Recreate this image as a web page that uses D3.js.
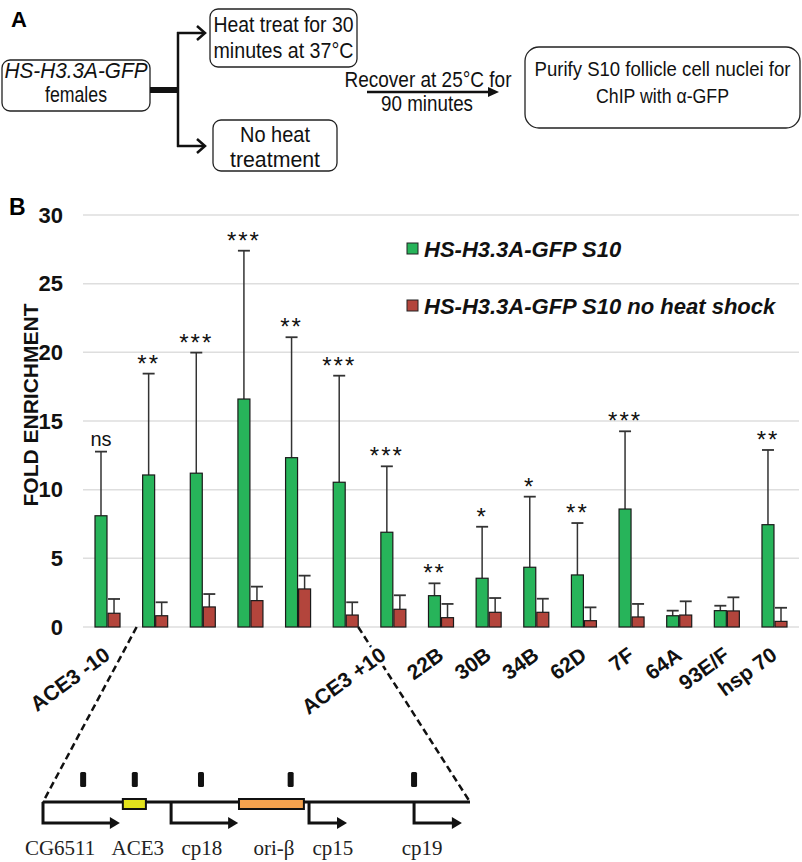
<!DOCTYPE html>
<html>
<head>
<meta charset="utf-8">
<script src="https://cdn.jsdelivr.net/npm/d3@7"></script>
<style>
  body { margin: 0; background: #fff; }
  svg { display: block; font-family: "Liberation Sans", Arial, sans-serif; }
</style>
</head>
<body>
<div id="chart"></div>
<script>
// fold enrichment per locus (mean and upper error)
const tickLabels = ["ACE3 -10", "", "", "", "", "", "ACE3 +10", "22B", "30B", "34B", "62D", "7F", "64A", "93E/F", "hsp 70"];
const heatShock = [8.1, 11.07, 11.2, 16.6, 12.33, 10.54, 6.9, 2.28, 3.55, 4.35, 3.79, 8.59, 0.82, 1.19, 7.45];
const heatShockErr = [4.67, 7.38, 8.78, 10.8, 8.77, 7.76, 4.8, 0.9, 3.75, 5.14, 3.78, 5.66, 0.37, 0.36, 5.44];
const noHeat = [1.0, 0.82, 1.46, 1.92, 2.77, 0.87, 1.29, 0.68, 1.07, 1.07, 0.46, 0.73, 0.87, 1.17, 0.41];
const noHeatErr = [1.04, 0.98, 0.94, 1.02, 0.97, 0.93, 1.02, 1.0, 1.04, 0.99, 0.97, 0.95, 1.0, 0.99, 0.99];
const significance = ["ns", "**", "***", "***", "**", "***", "***", "**", "*", "*", "**", "***", "", "", "**"];
const seriesNames = ["HS-H3.3A-GFP S10", "HS-H3.3A-GFP S10 no heat shock"];
const yTicks = [0, 5, 10, 15, 20, 25, 30];

// ACE3 locus schematic (locus units 0..100)
const probes = [9.4, 21.5, 37, 58, 86.9];
const promoters = [
  {name: "CG6511", start: 0, end: 18, label: 4},
  {name: "cp18", start: 30, end: 45.7, label: 37.2},
  {name: "cp15", start: 62.3, end: 71.2, label: 67.9},
  {name: "cp19", start: 86.9, end: 98.1, label: 88.8}
];
const elements = [
  {name: "ACE3", start: 18.7, end: 24.1, fill: "#e2e21c", label: 22.2},
  {name: "ori-β", start: 45.9, end: 61.1, fill: "#f4a24e", label: 54.1}
];

const width = 802, height = 862;
const green = "#27b45a", red = "#b3453c";
const sans = "Liberation Sans, Arial, sans-serif";

const svg = d3.select("#chart").append("svg")
  .attr("width", width)
  .attr("height", height);

// ---------- panel A: flow chart ----------
// the original uses a narrow face, so text is squeezed to the widths it had
const fa = svg.append("g").attr("font-size", 22).attr("fill", "#111");
svg.append("text").attr("x", 11).attr("y", 27)
  .attr("font-size", 22).attr("font-weight", "bold").text("A");

function label(cx, y, t, w, italic, size) {
  fa.append("text")
    .attr("x", cx).attr("y", y)
    .attr("text-anchor", "middle")
    .attr("font-style", italic ? "italic" : null)
    .attr("font-size", size || null)
    .attr("textLength", w).attr("lengthAdjust", "spacingAndGlyphs")
    .text(t);
}
function box(x, y, w, h, r, lines, italicFirst, size) {
  fa.append("rect")
    .attr("x", x).attr("y", y).attr("width", w).attr("height", h)
    .attr("rx", r).attr("fill", "#fff").attr("stroke", "#222").attr("stroke-width", 1.3);
  lines.forEach((l, i) => label(x + w / 2, l.y, l.t, l.w, i === 0 && italicFirst, size));
}
box(2, 60, 148, 51, 8, [{t: "HS-H3.3A-GFP", y: 78, w: 143}, {t: "females", y: 102, w: 62}], true);
box(210, 9, 147, 58, 8, [{t: "Heat treat for 30", y: 32, w: 140}, {t: "minutes at 37°C", y: 58, w: 140}]);
box(213, 120, 124, 51, 8, [{t: "No heat", y: 142, w: 70}, {t: "treatment", y: 167, w: 90}]);
box(525, 47, 275, 81, 14, [{t: "Purify S10 follicle cell nuclei for", y: 76, w: 256}, {t: "ChIP with α-GFP", y: 103, w: 133}], false, 19.5);

fa.append("line").attr("x1", 150).attr("x2", 179).attr("y1", 90).attr("y2", 90)
  .attr("stroke", "#111").attr("stroke-width", 6);
fa.append("line").attr("x1", 178).attr("x2", 178).attr("y1", 32).attr("y2", 147)
  .attr("stroke", "#111").attr("stroke-width", 2.5);
[33, 146].forEach(y => {
  fa.append("line").attr("x1", 177).attr("x2", 204).attr("y1", y).attr("y2", y)
    .attr("stroke", "#111").attr("stroke-width", 2.5);
  fa.append("path").attr("d", `M197,${y - 7}L205,${y}L197,${y + 7}`)
    .attr("fill", "none").attr("stroke", "#111").attr("stroke-width", 2.5);
});
label(428, 87, "Recover at 25°C for", 167);
label(427, 111, "90 minutes", 92);
fa.append("line").attr("x1", 367).attr("x2", 490).attr("y1", 92).attr("y2", 92)
  .attr("stroke", "#111").attr("stroke-width", 2.5);
fa.append("path").attr("d", "M488,87L499,92L488,97Z").attr("fill", "#111");

// ---------- panel B: bar chart ----------
const y = d3.scaleLinear().domain([0, 30]).range([627, 215]);
const x = d3.scaleBand().domain(d3.range(tickLabels.length))
  .range([83, 799]).paddingInner(0.475).paddingOuter(0.252);
const xs = d3.scaleBand().domain([0, 1]).range([0, x.bandwidth()]).paddingInner(0.08);

svg.append("text").attr("x", 9).attr("y", 215)
  .attr("font-size", 23).attr("font-weight", "bold").text("B");

// gridlines
svg.append("g").selectAll("line").data(yTicks).join("line")
  .attr("x1", 83).attr("x2", 799)
  .attr("y1", d => y(d)).attr("y2", d => y(d))
  .attr("stroke", "#dedede").attr("stroke-width", 1.5);

const yAxis = svg.append("g").attr("transform", "translate(83,0)")
  .call(d3.axisLeft(y).tickValues(yTicks).tickSize(0).tickPadding(20));
yAxis.select(".domain").remove();
yAxis.selectAll("text")
  .attr("font-size", 22).attr("font-weight", "bold").attr("fill", "#111")
  .attr("font-family", sans);

svg.append("text")
  .attr("transform", "translate(38,405) rotate(-90)")
  .attr("text-anchor", "middle")
  .attr("font-size", 21).attr("font-weight", "bold").attr("fill", "#111")
  .text("FOLD ENRICHMENT");

// legend
const legend = svg.append("g").attr("font-size", 22).attr("font-weight", "bold")
  .attr("font-style", "italic").attr("fill", "#111");
[[green, 243, 257], [red, 300, 314]].forEach(([c, ry, ty], i) => {
  legend.append("rect").attr("x", 407).attr("y", ry).attr("width", 11).attr("height", 11)
    .attr("fill", c).attr("stroke", "#222").attr("stroke-width", 1);
  legend.append("text").attr("x", 424).attr("y", ty).text(seriesNames[i]);
});

// dashed zoom lines to the locus schematic
const locus = d3.scaleLinear().domain([0, 100]).range([43, 470]);
const lineY = 802;
svg.append("g").selectAll("line").data([
  [x(1) - 6, locus(0)],
  [x(5) + x.bandwidth(), locus(100)]
]).join("line")
  .attr("x1", d => d[0]).attr("y1", y(0))
  .attr("x2", d => d[1]).attr("y2", lineY)
  .attr("stroke", "#111").attr("stroke-width", 2.5).attr("stroke-dasharray", "7,4");

// bars
const series = [
  {vals: heatShock, err: heatShockErr, color: green},
  {vals: noHeat, err: noHeatErr, color: red}
];
const groups = svg.append("g").selectAll("g").data(d3.range(tickLabels.length)).join("g")
  .attr("transform", i => `translate(${x(i)},0)`);

series.forEach((s, k) => {
  // error bar
  groups.append("line")
    .attr("x1", xs(k) + xs.bandwidth() / 2).attr("x2", xs(k) + xs.bandwidth() / 2)
    .attr("y1", i => y(s.vals[i])).attr("y2", i => y(s.vals[i] + s.err[i]))
    .attr("stroke", "#333").attr("stroke-width", 1.5);
  groups.append("line")
    .attr("x1", xs(k)).attr("x2", xs(k) + xs.bandwidth())
    .attr("y1", i => y(s.vals[i] + s.err[i])).attr("y2", i => y(s.vals[i] + s.err[i]))
    .attr("stroke", "#333").attr("stroke-width", 1.8);
  groups.append("rect")
    .attr("x", xs(k)).attr("width", xs.bandwidth())
    .attr("y", i => y(s.vals[i])).attr("height", i => y(0) - y(s.vals[i]))
    .attr("fill", s.color).attr("stroke", "#1a1a1a").attr("stroke-width", 1.2);
});

// significance marks
groups.append("text")
  .attr("x", xs(0) + xs.bandwidth() / 2)
  .attr("y", i => y(heatShock[i] + heatShockErr[i]) - (significance[i] === "ns" ? 6 : 2))
  .attr("text-anchor", "middle")
  .attr("font-size", i => significance[i] === "ns" ? 20 : 24)
  .attr("letter-spacing", i => significance[i] === "ns" ? 0 : 2)
  .attr("fill", "#111")
  .text(i => significance[i]);

// x axis labels
const xAxis = svg.append("g").attr("transform", `translate(0,${y(0)})`)
  .call(d3.axisBottom(x).tickFormat(i => tickLabels[i]).tickSize(0));
xAxis.select(".domain").remove();
xAxis.selectAll("text")
  .attr("x", 0).attr("y", 0).attr("dy", null)
  .attr("transform", i => `translate(${i === 6 ? -6 : 4},31) rotate(-36)`)
  .attr("text-anchor", "end")
  .attr("font-size", 21).attr("font-weight", "bold").attr("fill", "#111")
  .attr("font-family", sans)
  .attr("stroke", "#fff").attr("stroke-width", 8).attr("paint-order", "stroke")
  .attr("stroke-linejoin", "round");

// ---------- locus schematic ----------
const loc = svg.append("g");
loc.append("line").attr("x1", locus(0)).attr("x2", locus(100))
  .attr("y1", lineY).attr("y2", lineY).attr("stroke", "#111").attr("stroke-width", 3);
loc.selectAll(".probe").data(probes).join("rect")
  .attr("x", d => locus(d) - 3).attr("y", 772).attr("width", 6).attr("height", 15)
  .attr("rx", 1.5).attr("fill", "#111");
loc.selectAll(".prom").data(promoters).join("path")
  .attr("d", d => `M${locus(d.start)},${lineY}V823H${locus(d.end) - 8}`)
  .attr("fill", "none").attr("stroke", "#111").attr("stroke-width", 3);
loc.selectAll(".head").data(promoters).join("path")
  .attr("d", d => `M${locus(d.end) - 10},817L${locus(d.end)},823L${locus(d.end) - 10},829Z`)
  .attr("fill", "#111");
loc.selectAll(".el").data(elements).join("rect")
  .attr("x", d => locus(d.start)).attr("width", d => locus(d.end) - locus(d.start))
  .attr("y", 799).attr("height", 10)
  .attr("fill", d => d.fill).attr("stroke", "#111").attr("stroke-width", 2);
loc.selectAll(".lab").data(promoters.concat(elements)).join("text")
  .attr("x", d => locus(d.label)).attr("y", 855)
  .attr("text-anchor", "middle")
  .attr("font-family", "Liberation Serif, 'Times New Roman', serif")
  .attr("font-size", 21).attr("fill", "#222")
  .text(d => d.name);
</script>
</body>
</html>
